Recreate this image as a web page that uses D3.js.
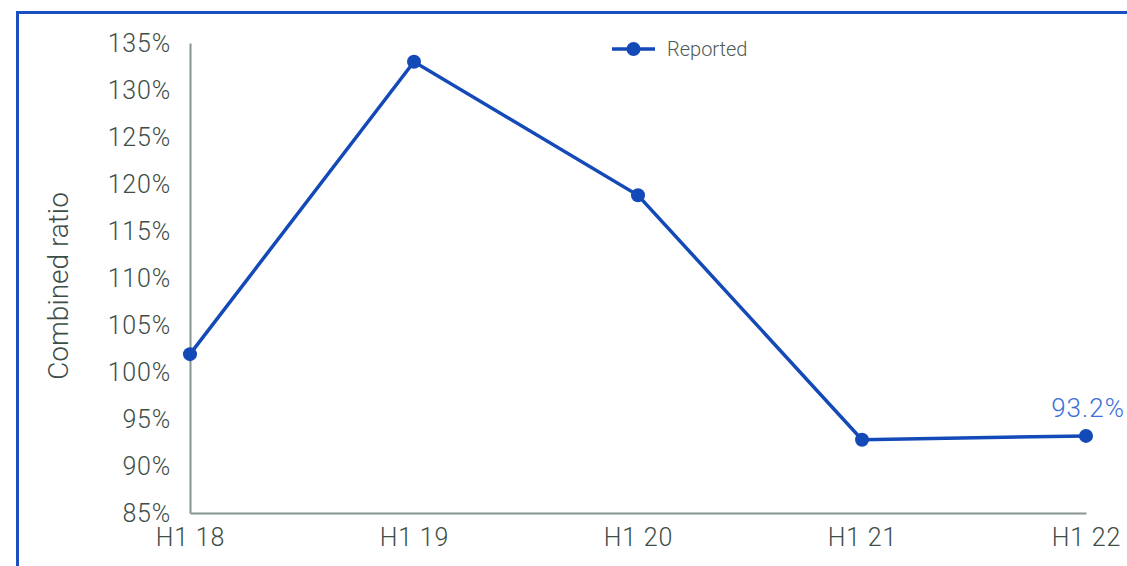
<!DOCTYPE html>
<html><head><meta charset="utf-8">
<script src="https://cdn.jsdelivr.net/npm/d3@7"></script>
<style>body{margin:0;background:#fff;}svg{display:block;}</style>
</head><body>
<svg id="c" width="1127" height="566"></svg>
<script>
const categories = ["H1 18","H1 19","H1 20","H1 21","H1 22"];
const reported = [101.9, 133.0, 118.8, 92.8, 93.2];
const yTicks = [85,90,95,100,105,110,115,120,125,130,135];
const seriesName = "Reported";
const lastLabel = "93.2%";

const svg = d3.select("#c");
const blue = "#1449b8";
const axisCol = "#869590";
const txtCol = "#3e4d48";
const font = "Roboto, 'Open Sans', sans-serif";

// frame
svg.append("path").attr("d","M17.5,566 L17.5,12.5 L1127,12.5")
  .attr("fill","none").attr("stroke","#1a4fc0").attr("stroke-width",3);

const x = d3.scalePoint().domain(categories).range([190,1086]);
const y = d3.scaleLinear().domain([85,135]).range([513,43]);

// y axis
const ya = svg.append("g").attr("transform","translate(190,0)")
  .call(d3.axisLeft(y).tickValues(yTicks).tickSize(0).tickPadding(19).tickFormat(d=>d+"%"));
ya.select(".domain").attr("stroke",axisCol).attr("stroke-width",2);
ya.selectAll("text").attr("font-family",font).attr("font-weight",300).attr("font-size",25)
  .attr("letter-spacing",0.8).attr("fill",txtCol);

// x axis
const xa = svg.append("g").attr("transform","translate(0,513)")
  .call(d3.axisBottom(x).tickSize(0).tickPadding(15));
xa.select(".domain").attr("stroke",axisCol).attr("stroke-width",2);
xa.selectAll("text").attr("font-family",font).attr("font-weight",300).attr("font-size",25)
  .attr("letter-spacing",0.8).attr("fill",txtCol);

// axis title
svg.append("text").attr("transform","translate(68,286) rotate(-90)")
  .attr("text-anchor","middle").attr("font-family",font).attr("font-weight",300)
  .attr("font-size",28).attr("fill",txtCol).text("Combined ratio");

// line
const data = categories.map((c,i)=>({c,v:reported[i]}));
svg.append("path").datum(data)
  .attr("d",d3.line().x(d=>x(d.c)).y(d=>y(d.v)))
  .attr("fill","none").attr("stroke",blue).attr("stroke-width",3.5);
svg.selectAll("circle.pt").data(data).join("circle").attr("class","pt")
  .attr("cx",d=>x(d.c)).attr("cy",d=>y(d.v)).attr("r",7).attr("fill",blue);

// data label
const last = data[data.length-1];
svg.append("text").attr("x",x(last.c)+2).attr("y",y(last.v)-19)
  .attr("text-anchor","middle").attr("font-family",font).attr("font-weight",300)
  .attr("font-size",26).attr("letter-spacing",1).attr("fill","#3b6fd6").text(lastLabel);

// legend
const lg = svg.append("g").attr("transform","translate(612,49)");
lg.append("line").attr("x1",0).attr("x2",43).attr("y1",0).attr("y2",0).attr("stroke",blue).attr("stroke-width",3.5);
lg.append("circle").attr("cx",21.5).attr("cy",0).attr("r",7).attr("fill",blue);
lg.append("text").attr("x",55).attr("y",7).attr("font-family",font).attr("font-weight",300)
  .attr("font-size",20).attr("fill","#505a57").text(seriesName);
</script>
</body></html>
